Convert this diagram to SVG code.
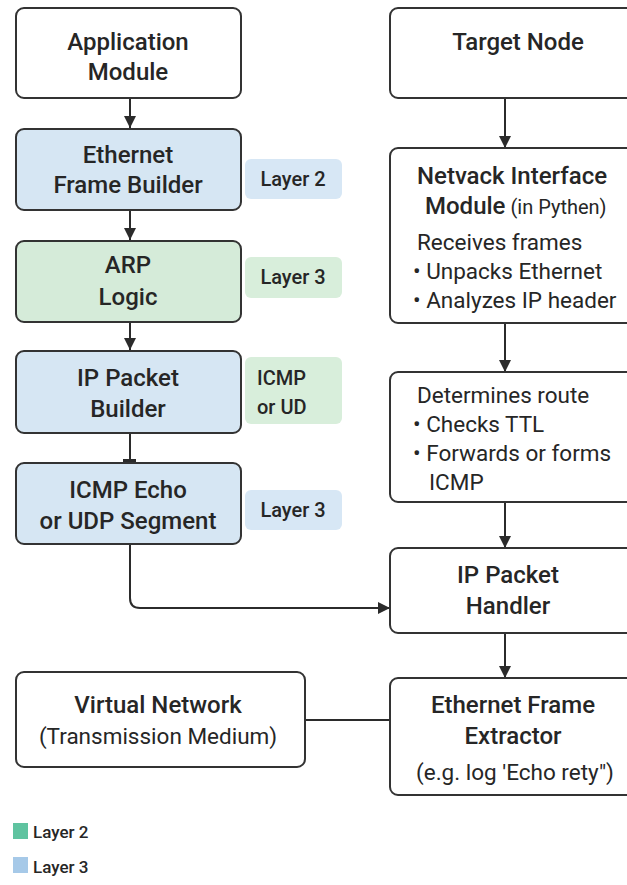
<svg xmlns="http://www.w3.org/2000/svg" width="627" height="885" viewBox="0 0 627 885">
  <defs>
    <marker id="arrow" viewBox="0 0 12 12" refX="12" refY="6" markerWidth="12" markerHeight="12" markerUnits="userSpaceOnUse" orient="auto">
      <path d="M0,0 L12,6 L0,12 Z" fill="#2b2b2b"/>
    </marker>
    <style>
      .box { stroke: #333; stroke-width: 2; }
      .plain { fill: #ffffff; }
      .blue { fill: #d6e6f3; }
      .green { fill: #d5ebd9; }
      .tagblue { fill: #d7e7f5; }
      .taggreen { fill: #d8eedb; }
      text { font-family: Roboto, "Liberation Sans", sans-serif; fill: #262626; }
      .title { font-size: 24px; font-weight: 500; }
      .mid { text-anchor: middle; }
      .body { font-size: 22.5px; font-weight: 400; }
      .small { font-size: 20px; font-weight: 400; }
      .tag { font-size: 20px; font-weight: 500; }
      .legend { font-size: 17px; font-weight: 500; }
      .conn { fill: none; stroke: #2b2b2b; stroke-width: 2; }
    </style>
  </defs>
  <rect width="627" height="885" fill="#ffffff"/>

  <!-- connectors -->
  <g id="connectors">
    <line class="conn" x1="130" y1="98" x2="130" y2="128" marker-end="url(#arrow)"/>
    <line class="conn" x1="130" y1="210" x2="130" y2="240" marker-end="url(#arrow)"/>
    <line class="conn" x1="130" y1="322" x2="130" y2="350" marker-end="url(#arrow)"/>
    <line class="conn" x1="130" y1="433" x2="130" y2="462"/>
    <rect x="123" y="459" width="13" height="4" fill="#2b2b2b"/>
    <path class="conn" d="M130,544 V598 Q130,608 140,608 H390" marker-end="url(#arrow)"/>
    <line class="conn" x1="505" y1="98" x2="505" y2="148" marker-end="url(#arrow)"/>
    <line class="conn" x1="505" y1="323" x2="505" y2="372" marker-end="url(#arrow)"/>
    <line class="conn" x1="505" y1="502" x2="505" y2="548" marker-end="url(#arrow)"/>
    <line class="conn" x1="505" y1="633" x2="505" y2="678" marker-end="url(#arrow)"/>
    <line class="conn" x1="305" y1="720" x2="390" y2="720"/>
  </g>

  <!-- left column -->
  <g id="app-module">
    <rect class="box plain" x="16" y="8" width="225" height="90" rx="8"/>
    <text class="title mid" x="128" y="50">Application</text>
    <text class="title mid" x="128" y="80">Module</text>
  </g>
  <g id="eth-frame-builder">
    <rect class="box blue" x="16" y="129" width="225" height="81" rx="8"/>
    <text class="title mid" x="128" y="163">Ethernet</text>
    <text class="title mid" x="128" y="193">Frame Builder</text>
  </g>
  <g id="tag-layer2">
    <rect class="tagblue" x="245" y="159" width="97" height="40" rx="6"/>
    <text class="tag mid" x="293" y="186">Layer 2</text>
  </g>
  <g id="arp-logic">
    <rect class="box green" x="16" y="241" width="225" height="81" rx="8"/>
    <text class="title mid" x="128" y="273">ARP</text>
    <text class="title mid" x="128" y="305">Logic</text>
  </g>
  <g id="tag-layer3-arp">
    <rect class="taggreen" x="245" y="257" width="97" height="41" rx="6"/>
    <text class="tag mid" x="293" y="284">Layer 3</text>
  </g>
  <g id="ip-packet-builder">
    <rect class="box blue" x="16" y="351" width="225" height="82" rx="8"/>
    <text class="title mid" x="128" y="386">IP Packet</text>
    <text class="title mid" x="128" y="417">Builder</text>
  </g>
  <g id="tag-icmp-udp">
    <rect class="taggreen" x="245" y="357" width="97" height="67" rx="6"/>
    <text class="tag" x="257" y="385">ICMP</text>
    <text class="tag" x="257" y="414">or UD</text>
  </g>
  <g id="icmp-echo">
    <rect class="box blue" x="16" y="463" width="225" height="81" rx="8"/>
    <text class="title mid" x="128" y="498">ICMP Echo</text>
    <text class="title mid" x="128" y="529">or UDP Segment</text>
  </g>
  <g id="tag-layer3-icmp">
    <rect class="tagblue" x="245" y="490" width="97" height="40" rx="6"/>
    <text class="tag mid" x="293" y="517">Layer 3</text>
  </g>

  <!-- right column -->
  <g id="target-node">
    <rect class="box plain" x="390" y="8" width="250" height="90" rx="8"/>
    <text class="title mid" x="518" y="50">Target Node</text>
  </g>
  <g id="netvack-interface">
    <rect class="box plain" x="390" y="148" width="250" height="175" rx="8"/>
    <text class="title" x="417" y="184">Netvack Interface</text>
    <text x="425" y="214"><tspan class="title">Module</tspan><tspan class="small" dx="5">(in Pythen)</tspan></text>
    <text class="body" x="417" y="250">Receives frames</text>
    <text class="body" x="413" y="279">• Unpacks Ethernet</text>
    <text class="body" x="413" y="308">• Analyzes IP header</text>
  </g>
  <g id="route-logic">
    <rect class="box plain" x="390" y="372" width="250" height="130" rx="8"/>
    <text class="body" x="417" y="403">Determines route</text>
    <text class="body" x="413" y="432">• Checks TTL</text>
    <text class="body" x="413" y="461">• Forwards or forms</text>
    <text class="body" x="429" y="490">ICMP</text>
  </g>
  <g id="ip-packet-handler">
    <rect class="box plain" x="390" y="548" width="250" height="85" rx="8"/>
    <text class="title mid" x="508" y="583">IP Packet</text>
    <text class="title mid" x="508" y="614">Handler</text>
  </g>
  <g id="eth-frame-extractor">
    <rect class="box plain" x="390" y="678" width="250" height="117" rx="8"/>
    <text class="title mid" x="513" y="713">Ethernet Frame</text>
    <text class="title mid" x="513" y="744">Extractor</text>
    <text class="body mid" x="515" y="780">(e.g. log 'Echo rety")</text>
  </g>

  <g id="virtual-network">
    <rect class="box plain" x="16" y="672" width="289" height="95" rx="8"/>
    <text class="title mid" x="158" y="713">Virtual Network</text>
    <text class="body mid" x="158" y="744">(Transmission Medium)</text>
  </g>

  <!-- legend -->
  <g id="legend">
    <rect x="13" y="823" width="15" height="16" fill="#5fc3a0"/>
    <text class="legend" x="33" y="838">Layer 2</text>
    <rect x="13" y="857" width="15" height="16" fill="#a6c9e8"/>
    <text class="legend" x="33" y="873">Layer 3</text>
  </g>
</svg>
